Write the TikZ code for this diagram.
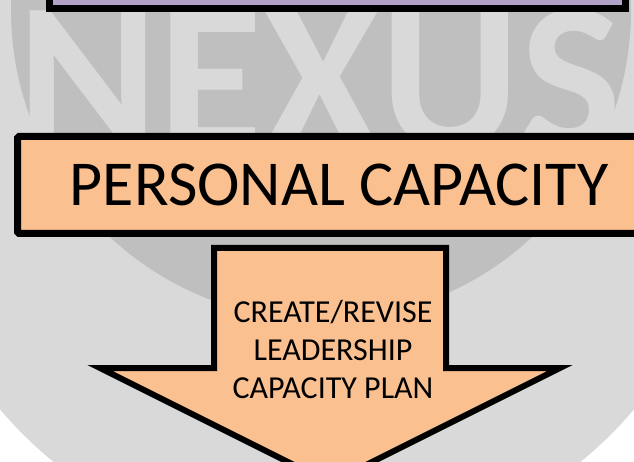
\documentclass[tikz,border=0pt]{standalone}
\usepackage{fontspec}
\setmainfont{Carlito}
\definecolor{boxorange}{HTML}{FAC090}
\definecolor{boxpurple}{HTML}{B3A2C7}
\definecolor{bglight}{HTML}{D9D9D9}
\definecolor{bgdark}{HTML}{BFBFBF}
\tikzset{
  heavyline/.style={draw=black, line width=7pt},
  arrowline/.style={draw=black, line width=6pt, line join=miter, fill=boxorange},
}
\begin{document}
\begin{tikzpicture}[x=1pt,y=-1pt]
\useasboundingbox (0,0) rectangle (634,462);
\clip (0,0) rectangle (634,462);
\fill[white] (0,0) rectangle (634,462);
% background discs
\fill[bglight] (317,140) circle[radius=416];
\fill[bgdark] (321,10) circle[radius=310];
% watermark
\node[anchor=base west, inner sep=0pt, text=bglight,
      font=\fontsize{214}{214}\selectfont\bfseries] (nexus) at (17,150) {NEXUS};
% purple box (mostly off the top)
\filldraw[heavyline, fill=boxpurple] (49.5,-40) rectangle (625.5,8.5);
% orange title box
\node[heavyline, fill=boxorange, minimum width=643pt, minimum height=97pt,
      inner sep=0pt, rounded corners=1.5pt,
      font=\fontsize{64}{64}\selectfont] (personal) at (339,185) {PERSONAL CAPACITY};
% down arrow
\path[arrowline] (214,248) -- (446,248) -- (446,368) -- (560,368)
   -- (330,483) -- (100,368) -- (214,368) -- cycle;
\node[align=center, inner sep=0pt, font=\fontsize{32}{38}\selectfont]
   (plan) at (333,349) {CREATE/REVISE\\LEADERSHIP\\CAPACITY PLAN};
\end{tikzpicture}
\end{document}
